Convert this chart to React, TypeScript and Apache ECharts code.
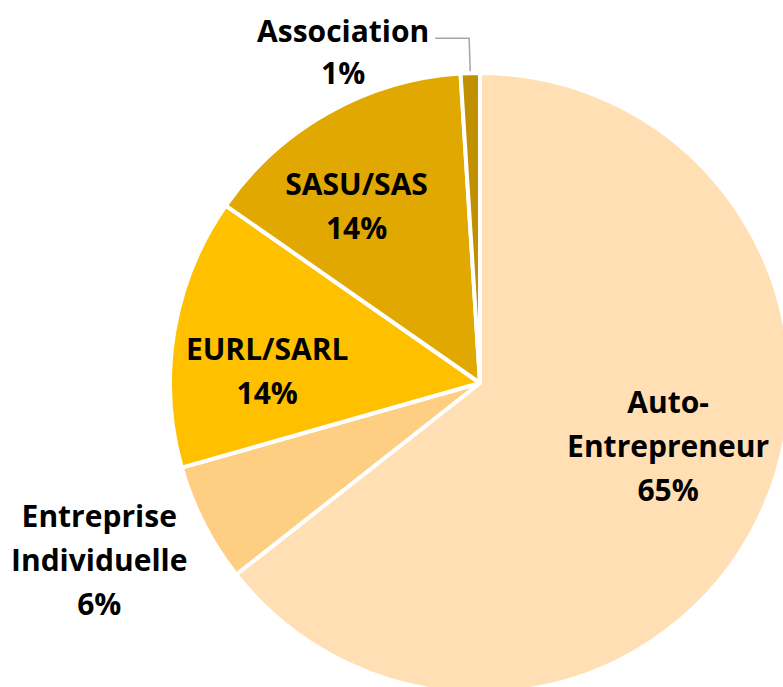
import React, { useEffect, useRef } from "react";
import * as echarts from "echarts";

const categories = ["Auto-Entrepreneur", "Entreprise Individuelle", "EURL/SARL", "SASU/SAS", "Association"];
const labelNames = ["Auto-\nEntrepreneur", "Entreprise\nIndividuelle", "EURL/SARL", "SASU/SAS", "Association"];
const values = [64.4, 6.2, 14.1, 14.3, 1.0];
const percentLabels = ["65%", "6%", "14%", "14%", "1%"];
const colors = ["#FFDFB3", "#FECE82", "#FFC000", "#E0A800", "#C09000"];

export default function App() {
  const ref = useRef<HTMLDivElement>(null);
  useEffect(() => {
    if (!ref.current) return;
    const chart = echarts.init(ref.current, null, { renderer: "svg" });
    const font = { fontFamily: "Open Sans", fontWeight: "bold" as const, fontSize: 30, lineHeight: 44, color: "#000" };
    const offsets: Record<number, number[]> = {
      0: [46, -7],
      1: [-240, 105],
      2: [-57, 14],
      3: [-46, -40],
    };
    const data = categories.map((name, i) => {
      const base: any = {
        name,
        value: values[i],
        itemStyle: { color: colors[i] },
      };
      if (i === 4) {
        base.label = {
          show: true,
          position: "outside",
          formatter: "{a|" + labelNames[i] + "}\n{a|" + percentLabels[i] + "}",
          rich: { a: { ...font, lineHeight: 42, width: 178, align: "center" } },
          padding: [26, 0, 0, 0],
          distanceToLabelLine: 3,
        };
        base.labelLine = {
          show: true,
          length: 35,
          length2: 34,
          lineStyle: { color: "#A6A6A6", width: 1.5 },
        };
      } else {
        base.label = {
          show: true,
          position: "inside",
          formatter: labelNames[i] + "\n" + percentLabels[i],
          offset: offsets[i],
          ...font,
          align: "center",
        };
        base.labelLine = { show: false };
      }
      return base;
    });
    chart.setOption({
      animation: false,
      backgroundColor: "#fff",
      series: [
        {
          type: "pie",
          center: [480, 383],
          radius: 310,
          startAngle: 90,
          clockwise: true,
          avoidLabelOverlap: false,
          itemStyle: { borderColor: "#fff", borderWidth: 4 },
          emphasis: { disabled: true },
          data,
        },
      ],
    });
    return () => chart.dispose();
  }, []);
  return <div ref={ref} style={{ width: 783, height: 687, position: "absolute", left: 0, top: 0 }} />;
}
